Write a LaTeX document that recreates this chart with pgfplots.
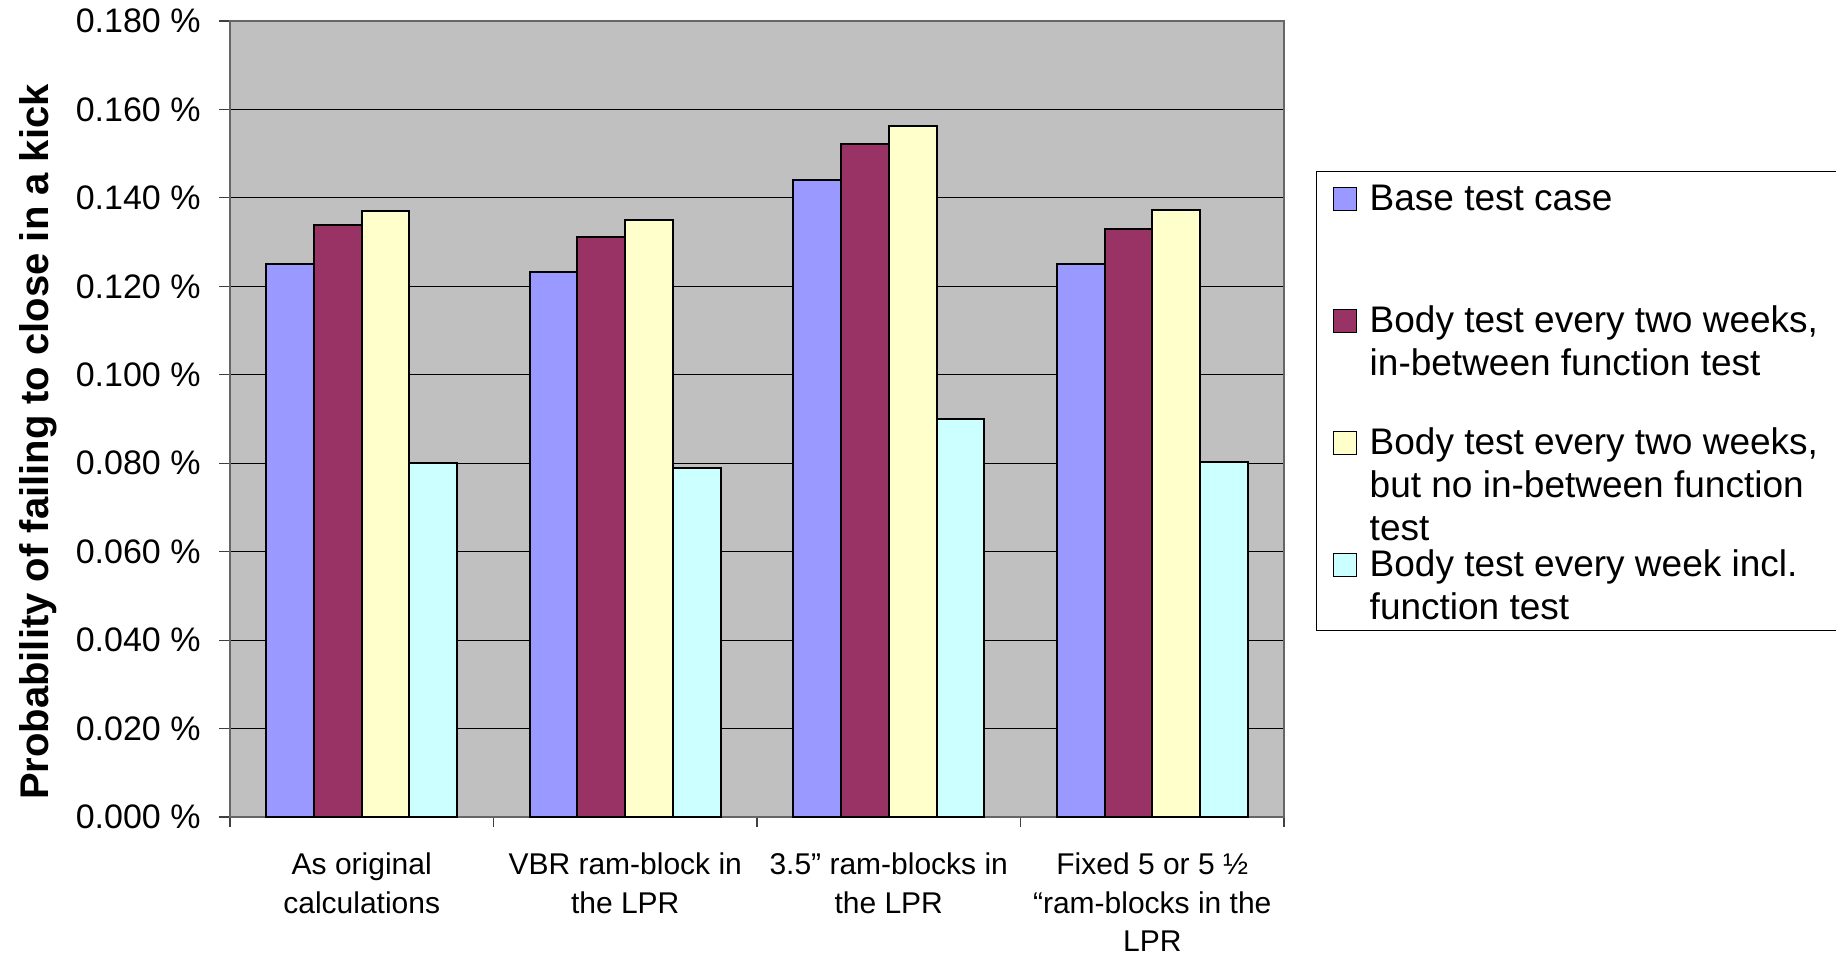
\documentclass[border=0pt]{standalone}
\usepackage{fontspec}
\setmainfont{Liberation Sans}
\usepackage{pgfplots}
\pgfplotsset{compat=1.18}
\definecolor{cA}{HTML}{9999FF}
\definecolor{cB}{HTML}{993366}
\definecolor{cC}{HTML}{FFFFCC}
\definecolor{cD}{HTML}{CCFFFF}
\definecolor{bgc}{HTML}{C0C0C0}
\pgfplotsset{
  /pgfplots/ybar legend/.style={
    /pgfplots/legend image code/.code={\draw[##1,line width=0.6pt] (0pt,0pt) rectangle (11.5pt,11.3pt);}}}
\newcommand{\lent}[1]{\parbox[t]{240pt}{\rule{0pt}{14pt}#1}}
\begin{document}
\begin{tikzpicture}
\begin{axis}[
  at={(0,0)}, anchor=south west,
  scale only axis, width=527pt, height=398pt,
  ybar=0pt, bar width=23.875pt,
  xmin=-0.5, xmax=3.5, ymin=0, ymax=0.18,
  axis background/.style={fill=bgc},
  axis line style={draw=black!60, line width=1pt},
  ymajorgrids, major grid style={black, line width=0.5pt},
  tick align=outside, major tick length=5.5pt,
  tick style={black!75, line width=0.6pt},
  minor tick length=5pt,
  xtick pos=bottom, ytick pos=left,
  xtick={0,1,2,3},
  every major x tick/.append style={draw=none},
  minor xtick={-0.5,0.5,1.5,2.5,3.5},
  xticklabels={{As original\\calculations},{VBR ram-block in\\the LPR},{3.5” ram-blocks in\\the LPR},{Fixed 5 or 5 ½\\“ram-blocks in the\\LPR}},
  xticklabel style={font=\fontsize{15}{19.3}\selectfont, align=center, anchor=north, yshift=-12.2pt, inner sep=0pt},
  ytick={0,0.02,...,0.18},
  scaled y ticks=false,
  /pgf/number format/assume math mode=true,
  yticklabel={\pgfmathprintnumber[fixed,fixed zerofill,precision=3]{\tick} \%},
  yticklabel style={font=\fontsize{17}{20}\selectfont, anchor=east, inner sep=0pt, xshift=-9pt},
  ylabel={Probability of failing to close in a kick},
  ylabel style={font=\fontsize{20}{24}\selectfont\bfseries, at={(axis description cs:-0.182,0.471)}, anchor=center},
  legend style={at={(axis description cs:1.0304,0.8116)}, anchor=north west,
    draw=black, line width=0.5pt, fill=white,
    font=\fontsize{18.5}{21.5}\selectfont,
    inner xsep=8pt, inner ysep=5.5pt, row sep=0pt, column sep=6.5pt,
    nodes={inner sep=0pt, text depth=, text height=}, cells={anchor=base west}},
]
\addplot[fill=cA, draw=black, line width=1pt] coordinates {(0,0.125) (1,0.1232) (2,0.1441) (3,0.125)};
\addplot[fill=cB, draw=black, line width=1pt] coordinates {(0,0.1338) (1,0.1312) (2,0.1521) (3,0.1329)};
\addplot[fill=cC, draw=black, line width=1pt] coordinates {(0,0.1371) (1,0.1349) (2,0.1563) (3,0.1372)};
\addplot[fill=cD, draw=black, line width=1pt] coordinates {(0,0.0801) (1,0.0789) (2,0.0900) (3,0.0803)};
\legend{\lent{Base test case\rule[-47pt]{0pt}{0pt}},
  \lent{Body test every two weeks,\\in-between function test\rule[-25.5pt]{0pt}{0pt}},
  \lent{Body test every two weeks,\\but no in-between function\\test\rule[-4pt]{0pt}{0pt}},
  \lent{Body test every week incl.\\\smash{function test}}}
\end{axis}
\pgfresetboundingbox
\useasboundingbox (-115pt,-69pt) rectangle (803pt,408.5pt);
\end{tikzpicture}
\end{document}
